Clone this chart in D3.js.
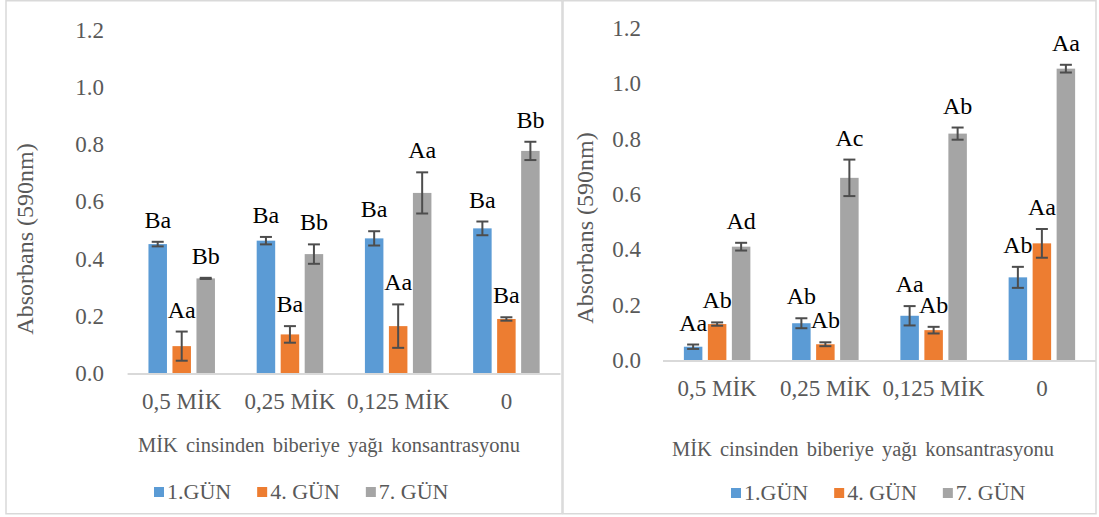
<!DOCTYPE html>
<html>
    <head>
        <meta charset="utf-8">
        <title>Absorbans</title>
        <script src="https://d3js.org/d3.v7.min.js" charset="utf-8"></script>
        <style>
            body {
                margin: 0;
                background: white;
            }
            svg text {
                font-family: "Liberation Serif", "Times New Roman", serif;
            }
            .gray-text {
                fill: #595959;
            }
        </style>
    </head>
    <body>
        <script>
            // categories + series
            var categories = ["0,5 MİK", "0,25 MİK", "0,125 MİK", "0"];
            var seriesNames = ["1.GÜN", "4. GÜN", "7. GÜN"];
            var yTicks = [0, 0.2, 0.4, 0.6, 0.8, 1.0, 1.2];

            // left chart
            var leftDay1 = [0.451, 0.463, 0.471, 0.506];
            var leftDay4 = [0.094, 0.135, 0.164, 0.189];
            var leftDay7 = [0.331, 0.416, 0.630, 0.777];
            var leftErr1 = [0.008, 0.013, 0.025, 0.024];
            var leftErr4 = [0.051, 0.029, 0.076, 0.006];
            var leftErr7 = [0.002, 0.034, 0.072, 0.032];
            var leftLab1 = ["Ba", "Ba", "Ba", "Ba"];
            var leftLab4 = ["Aa", "Ba", "Aa", "Ba"];
            var leftLab7 = ["Bb", "Bb", "Aa", "Bb"];

            // right chart
            var rightDay1 = [0.048, 0.133, 0.160, 0.299];
            var rightDay4 = [0.130, 0.057, 0.108, 0.422];
            var rightDay7 = [0.410, 0.659, 0.819, 1.054];
            var rightErr1 = [0.008, 0.018, 0.035, 0.038];
            var rightErr4 = [0.006, 0.007, 0.012, 0.052];
            var rightErr7 = [0.014, 0.066, 0.022, 0.014];
            var rightLab1 = ["Aa", "Ab", "Aa", "Ab"];
            var rightLab4 = ["Ab", "Ab", "Ab", "Aa"];
            var rightLab7 = ["Ad", "Ac", "Ab", "Aa"];

            var colors = ["#5b9bd5", "#ed7d31", "#a5a5a5"];

            var width = 1099;
            var height = 517;

            var svg = d3.select("body")
                .append("svg")
                .attr("width", width)
                .attr("height", height);

            function drawPanel(p, vals, errs, labs) {
                var g = svg.append("g");

                // frame
                g.append("rect")
                    .attr("x", p.frame[0]).attr("y", p.frame[1])
                    .attr("width", p.frame[2]).attr("height", p.frame[3])
                    .attr("fill", "white")
                    .attr("stroke", "#d9d9d9")
                    .attr("stroke-width", 1.5);

                var y = d3.scaleLinear().domain([0, 1.2]).range([p.y0, p.y1]);
                var x = d3.scaleBand().domain(categories).range([p.x0, p.x1]);
                var barW = 18.5, step = 24;

                // y tick labels (no tick marks, no domain line)
                var yAxis = d3.axisLeft(y).tickValues(yTicks).tickFormat(d3.format(".1f")).tickSize(0).tickPadding(0);
                var ya = g.append("g")
                    .attr("transform", "translate(" + p.tickX + ",0)")
                    .call(yAxis)
                    .attr("font-family", null)
                    .attr("font-size", null);
                ya.select(".domain").remove();
                ya.selectAll("text")
                    .attr("class", "gray-text")
                    .attr("fill", null)
                    .style("font-size", "23px");

                // bars
                vals.forEach(function(series, si) {
                    var data = series.map(function(v, i) {
                        return {cat: categories[i], v: v, e: errs[si][i], lab: labs[si][i]};
                    });
                    var cx = function(d) { return x(d.cat) + x.bandwidth() / 2 + (si - 1) * step; };

                    g.selectAll(".bar" + si)
                        .data(data)
                        .enter()
                        .append("rect")
                        .attr("x", function(d) { return cx(d) - barW / 2; })
                        .attr("y", function(d) { return y(d.v); })
                        .attr("width", barW)
                        .attr("height", function(d) { return y(0) - y(d.v); })
                        .attr("fill", colors[si]);

                    // error bars
                    var eb = g.selectAll(".err" + si)
                        .data(data)
                        .enter()
                        .append("g")
                        .attr("stroke", "#4d4d4d")
                        .attr("stroke-width", 2);
                    eb.append("line")
                        .attr("x1", cx).attr("x2", cx)
                        .attr("y1", function(d) { return y(d.v + d.e); })
                        .attr("y2", function(d) { return y(d.v - d.e); });
                    eb.append("line")
                        .attr("x1", function(d) { return cx(d) - 6; })
                        .attr("x2", function(d) { return cx(d) + 6; })
                        .attr("y1", function(d) { return y(d.v + d.e); })
                        .attr("y2", function(d) { return y(d.v + d.e); });
                    eb.append("line")
                        .attr("x1", function(d) { return cx(d) - 6; })
                        .attr("x2", function(d) { return cx(d) + 6; })
                        .attr("y1", function(d) { return y(d.v - d.e); })
                        .attr("y2", function(d) { return y(d.v - d.e); });

                    // letter labels
                    g.selectAll(".lab" + si)
                        .data(data)
                        .enter()
                        .append("text")
                        .attr("x", cx)
                        .attr("y", function(d) { return y(d.v + d.e) - 14; })
                        .attr("text-anchor", "middle")
                        .attr("fill", "black")
                        .style("font-size", "24px")
                        .text(function(d) { return d.lab; });
                });

                // x axis line
                g.append("line")
                    .attr("x1", p.x0).attr("x2", p.x1)
                    .attr("y1", y(0) + 1).attr("y2", y(0) + 1)
                    .attr("stroke", "#d9d9d9")
                    .attr("stroke-width", 2);

                // category labels
                g.selectAll(".cat")
                    .data(categories)
                    .enter()
                    .append("text")
                    .attr("class", "gray-text")
                    .attr("x", function(d) { return x(d) + x.bandwidth() / 2; })
                    .attr("y", y(0) + 36)
                    .attr("text-anchor", "middle")
                    .style("font-size", "23px")
                    .text(function(d) { return d; });

                // x title
                g.append("text")
                    .attr("class", "gray-text")
                    .attr("x", p.titleX)
                    .attr("y", p.titleY)
                    .attr("text-anchor", "middle")
                    .style("font-size", "20.5px")
                    .style("word-spacing", "3px")
                    .text("MİK cinsinden biberiye yağı konsantrasyonu");

                // y title
                g.append("text")
                    .attr("class", "gray-text")
                    .attr("transform", "translate(" + p.yTitleX + "," + p.yTitleY + ") rotate(-90)")
                    .attr("text-anchor", "middle")
                    .style("font-size", "24px")
                    .text("Absorbans (590nm)");

                // legend
                var lx = p.legendX;
                seriesNames.forEach(function(name, si) {
                    g.append("rect")
                        .attr("x", lx).attr("y", p.legendY - 5)
                        .attr("width", 10).attr("height", 10)
                        .attr("fill", colors[si]);
                    var t = g.append("text")
                        .attr("class", "gray-text")
                        .attr("x", lx + 13)
                        .attr("y", p.legendY + 7)
                        .style("font-size", "22px")
                        .text(name);
                    lx += 13 + t.node().getComputedTextLength() + 26;
                });
            }

            drawPanel({
                frame: [6, 0.75, 556, 513],
                x0: 127.6, x1: 560.5, y0: 373, y1: 30,
                tickX: 104,
                titleX: 329, titleY: 452,
                yTitleX: 32.5, yTitleY: 239,
                legendX: 154, legendY: 492
            }, [leftDay1, leftDay4, leftDay7], [leftErr1, leftErr4, leftErr7], [leftLab1, leftLab4, leftLab7]);

            drawPanel({
                frame: [563, 0.75, 533, 513],
                x0: 663, x1: 1096, y0: 360, y1: 28.3,
                tickX: 641,
                titleX: 863, titleY: 456,
                yTitleX: 593, yTitleY: 228,
                legendX: 731, legendY: 493
            }, [rightDay1, rightDay4, rightDay7], [rightErr1, rightErr4, rightErr7], [rightLab1, rightLab4, rightLab7]);
        </script>
    </body>
</html>
